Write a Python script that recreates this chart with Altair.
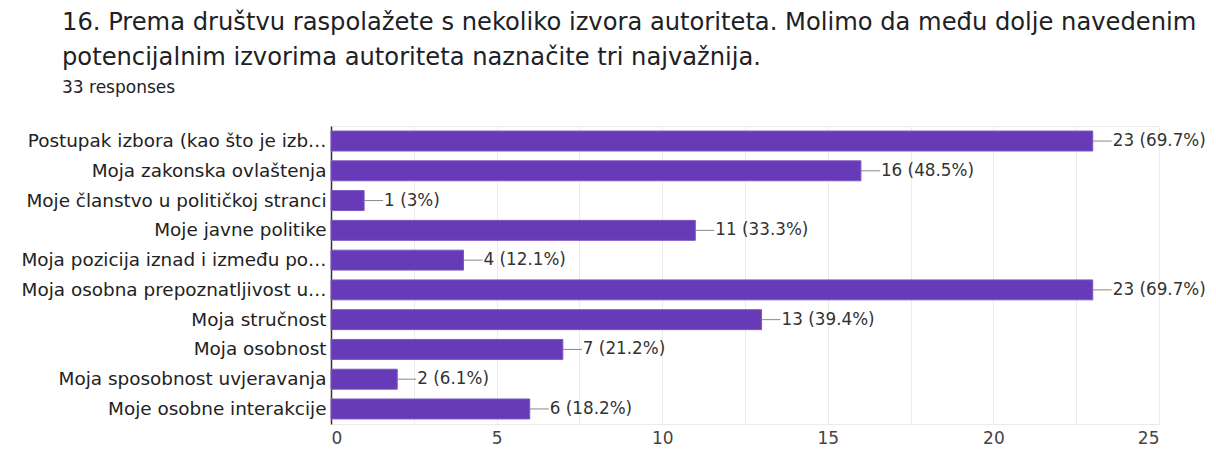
import altair as alt
import pandas as pd

categories = [
    "Postupak izbora (kao što je izb…",
    "Moja zakonska ovlaštenja",
    "Moje članstvo u političkoj stranci",
    "Moje javne politike",
    "Moja pozicija iznad i između po…",
    "Moja osobna prepoznatljivost u…",
    "Moja stručnost",
    "Moja osobnost",
    "Moja sposobnost uvjeravanja",
    "Moje osobne interakcije",
]
counts = [23, 16, 1, 11, 4, 23, 13, 7, 2, 6]
percent_labels = ["69.7%", "48.5%", "3%", "33.3%", "12.1%", "69.7%", "39.4%", "21.2%", "6.1%", "18.2%"]
total_responses = 33

title_lines = [
    "16. Prema društvu raspolažete s nekoliko izvora autoriteta. Molimo da među dolje navedenim",
    "potencijalnim izvorima autoriteta naznačite tri najvažnija.",
]
subtitle = f"{total_responses} responses"

df = pd.DataFrame({
    "cat": categories,
    "count": counts,
    "label": [f"{c} ({p})" for c, p in zip(counts, percent_labels)],
})

LABEL_FONT = "DejaVu Sans"
PURPLE = "#673ab7"

x_enc = alt.X(
    "count:Q",
    scale=alt.Scale(domain=[0, 25], nice=False),
    axis=alt.Axis(
        values=[0, 2.5, 5, 7.5, 10, 12.5, 15, 17.5, 20, 22.5, 25],
        labelExpr="datum.value % 5 == 0 ? datum.label : ''",
        title=None, domain=False, ticks=False, grid=True,
        gridColor="#ebebeb", labelFontSize=17, labelColor="#444444",
        labelFont=LABEL_FONT, labelPadding=6,
    ),
)
y_enc = alt.Y(
    "cat:N", sort=categories,
    scale=alt.Scale(paddingInner=0.33, paddingOuter=0.17),
    axis=alt.Axis(
        title=None, ticks=False, domain=True, domainColor="#333333",
        domainWidth=1.5, labelFontSize=18.4, labelColor="#222222",
        labelFont=LABEL_FONT, labelLimit=400, labelPadding=5,
    ),
)

bars = alt.Chart(df).mark_bar(color=PURPLE, stroke="#7e57c2", strokeWidth=1).encode(
    x=x_enc, y=y_enc
)
leaders = alt.Chart(df).mark_rule(color="#888888", strokeWidth=1, x2Offset=19).encode(
    x="count:Q", x2="count:Q", y=alt.Y("cat:N", sort=categories)
)
texts = alt.Chart(df).mark_text(
    align="left", baseline="middle", dx=20, fontSize=16.8, font=LABEL_FONT, color="#333333"
).encode(x="count:Q", y=alt.Y("cat:N", sort=categories), text="label:N")

chart = alt.layer(bars, leaders, texts).properties(
    width=828,
    height=298,
    title=alt.TitleParams(
        text=title_lines,
        subtitle=subtitle,
        anchor="start",
        frame="group",
        dx=-269,
        offset=30,
        font="DejaVu Sans",
        fontSize=24.2,
        fontWeight="normal",
        color="#202124",
        lineHeight=35,
        subtitleFont="DejaVu Sans",
        subtitleFontSize=17,
        subtitleColor="#202124",
        subtitlePadding=10,
    ),
    autosize=alt.AutoSizeParams(type="none"),
    padding={"left": 323, "top": 118, "right": 49, "bottom": 22},
).configure_view(stroke="#ebebeb")

chart.save("out.html", embed_options={"renderer": "svg", "actions": False})
